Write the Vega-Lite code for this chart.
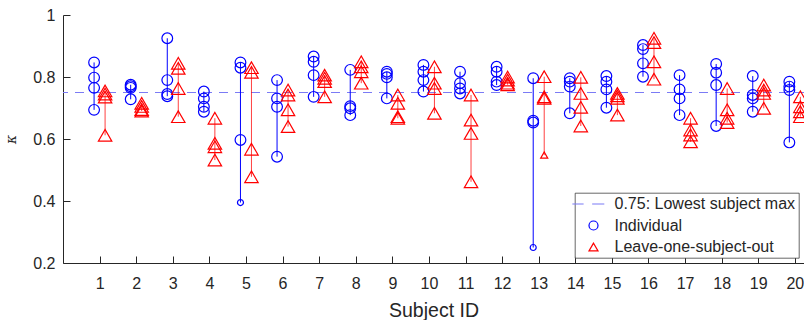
{
  "$schema": "https://vega.github.io/schema/vega-lite/v6.json",
  "width": 741,
  "height": 248,
  "autosize": "none",
  "padding": {"left": 63, "top": 15, "right": 0, "bottom": 57},
  "background": "white",
  "config": {
    "font": "Liberation Sans",
    "view": {"stroke": null},
    "axis": {
      "domainColor": "#262626", "tickColor": "#262626", "labelColor": "#262626", "titleColor": "#262626",
      "labelFont": "Liberation Sans", "labelFontSize": 16, "grid": false, "tickSize": -7,
      "domainWidth": 1, "tickWidth": 1, "titleFontWeight": "normal"
    },
    "legend": {"strokeWidth": 0.7}
  },
  "datasets": {
    "kappa": [
      {"s": 1, "g": "Individual", "k": 0.847}, {"s": 1, "g": "Individual", "k": 0.798}, {"s": 1, "g": "Individual", "k": 0.765}, {"s": 1, "g": "Individual", "k": 0.694},
      {"s": 1, "g": "Leave-one-subject-out", "k": 0.755}, {"s": 1, "g": "Leave-one-subject-out", "k": 0.745}, {"s": 1, "g": "Leave-one-subject-out", "k": 0.735}, {"s": 1, "g": "Leave-one-subject-out", "k": 0.612},
      {"s": 2, "g": "Individual", "k": 0.775}, {"s": 2, "g": "Individual", "k": 0.77}, {"s": 2, "g": "Individual", "k": 0.765}, {"s": 2, "g": "Individual", "k": 0.728},
      {"s": 2, "g": "Leave-one-subject-out", "k": 0.715}, {"s": 2, "g": "Leave-one-subject-out", "k": 0.705}, {"s": 2, "g": "Leave-one-subject-out", "k": 0.695}, {"s": 2, "g": "Leave-one-subject-out", "k": 0.69},
      {"s": 3, "g": "Individual", "k": 0.925}, {"s": 3, "g": "Individual", "k": 0.79}, {"s": 3, "g": "Individual", "k": 0.745}, {"s": 3, "g": "Individual", "k": 0.738},
      {"s": 3, "g": "Leave-one-subject-out", "k": 0.844}, {"s": 3, "g": "Leave-one-subject-out", "k": 0.828}, {"s": 3, "g": "Leave-one-subject-out", "k": 0.763}, {"s": 3, "g": "Leave-one-subject-out", "k": 0.672},
      {"s": 4, "g": "Individual", "k": 0.753}, {"s": 4, "g": "Individual", "k": 0.731}, {"s": 4, "g": "Individual", "k": 0.704}, {"s": 4, "g": "Individual", "k": 0.688},
      {"s": 4, "g": "Leave-one-subject-out", "k": 0.667}, {"s": 4, "g": "Leave-one-subject-out", "k": 0.586}, {"s": 4, "g": "Leave-one-subject-out", "k": 0.575}, {"s": 4, "g": "Leave-one-subject-out", "k": 0.532},
      {"s": 5, "g": "Individual", "k": 0.847}, {"s": 5, "g": "Individual", "k": 0.83}, {"s": 5, "g": "Individual", "k": 0.597}, {"s": 5, "g": "Individual", "k": 0.395, "small": true},
      {"s": 5, "g": "Leave-one-subject-out", "k": 0.83}, {"s": 5, "g": "Leave-one-subject-out", "k": 0.815}, {"s": 5, "g": "Leave-one-subject-out", "k": 0.567}, {"s": 5, "g": "Leave-one-subject-out", "k": 0.478},
      {"s": 6, "g": "Individual", "k": 0.79}, {"s": 6, "g": "Individual", "k": 0.731}, {"s": 6, "g": "Individual", "k": 0.704}, {"s": 6, "g": "Individual", "k": 0.543},
      {"s": 6, "g": "Leave-one-subject-out", "k": 0.758}, {"s": 6, "g": "Leave-one-subject-out", "k": 0.742}, {"s": 6, "g": "Leave-one-subject-out", "k": 0.694}, {"s": 6, "g": "Leave-one-subject-out", "k": 0.64},
      {"s": 7, "g": "Individual", "k": 0.866}, {"s": 7, "g": "Individual", "k": 0.849}, {"s": 7, "g": "Individual", "k": 0.806}, {"s": 7, "g": "Individual", "k": 0.736},
      {"s": 7, "g": "Leave-one-subject-out", "k": 0.806}, {"s": 7, "g": "Leave-one-subject-out", "k": 0.796}, {"s": 7, "g": "Leave-one-subject-out", "k": 0.785}, {"s": 7, "g": "Leave-one-subject-out", "k": 0.736},
      {"s": 8, "g": "Individual", "k": 0.823}, {"s": 8, "g": "Individual", "k": 0.706}, {"s": 8, "g": "Individual", "k": 0.699}, {"s": 8, "g": "Individual", "k": 0.677},
      {"s": 8, "g": "Leave-one-subject-out", "k": 0.849}, {"s": 8, "g": "Leave-one-subject-out", "k": 0.833}, {"s": 8, "g": "Leave-one-subject-out", "k": 0.817}, {"s": 8, "g": "Leave-one-subject-out", "k": 0.78},
      {"s": 9, "g": "Individual", "k": 0.817}, {"s": 9, "g": "Individual", "k": 0.81}, {"s": 9, "g": "Individual", "k": 0.799}, {"s": 9, "g": "Individual", "k": 0.731},
      {"s": 9, "g": "Leave-one-subject-out", "k": 0.742}, {"s": 9, "g": "Leave-one-subject-out", "k": 0.715}, {"s": 9, "g": "Leave-one-subject-out", "k": 0.672}, {"s": 9, "g": "Leave-one-subject-out", "k": 0.667},
      {"s": 10, "g": "Individual", "k": 0.839}, {"s": 10, "g": "Individual", "k": 0.817}, {"s": 10, "g": "Individual", "k": 0.79}, {"s": 10, "g": "Individual", "k": 0.753},
      {"s": 10, "g": "Leave-one-subject-out", "k": 0.833}, {"s": 10, "g": "Leave-one-subject-out", "k": 0.78}, {"s": 10, "g": "Leave-one-subject-out", "k": 0.763}, {"s": 10, "g": "Leave-one-subject-out", "k": 0.683},
      {"s": 11, "g": "Individual", "k": 0.817}, {"s": 11, "g": "Individual", "k": 0.78}, {"s": 11, "g": "Individual", "k": 0.763}, {"s": 11, "g": "Individual", "k": 0.747},
      {"s": 11, "g": "Leave-one-subject-out", "k": 0.742}, {"s": 11, "g": "Leave-one-subject-out", "k": 0.661}, {"s": 11, "g": "Leave-one-subject-out", "k": 0.618}, {"s": 11, "g": "Leave-one-subject-out", "k": 0.462},
      {"s": 12, "g": "Individual", "k": 0.833}, {"s": 12, "g": "Individual", "k": 0.817}, {"s": 12, "g": "Individual", "k": 0.785}, {"s": 12, "g": "Individual", "k": 0.774},
      {"s": 12, "g": "Leave-one-subject-out", "k": 0.8}, {"s": 12, "g": "Leave-one-subject-out", "k": 0.79}, {"s": 12, "g": "Leave-one-subject-out", "k": 0.78}, {"s": 12, "g": "Leave-one-subject-out", "k": 0.775},
      {"s": 13, "g": "Individual", "k": 0.796}, {"s": 13, "g": "Individual", "k": 0.659}, {"s": 13, "g": "Individual", "k": 0.653}, {"s": 13, "g": "Individual", "k": 0.25, "small": true},
      {"s": 13, "g": "Leave-one-subject-out", "k": 0.801}, {"s": 13, "g": "Leave-one-subject-out", "k": 0.736}, {"s": 13, "g": "Leave-one-subject-out", "k": 0.731}, {"s": 13, "g": "Leave-one-subject-out", "k": 0.548, "small": true},
      {"s": 14, "g": "Individual", "k": 0.796}, {"s": 14, "g": "Individual", "k": 0.785}, {"s": 14, "g": "Individual", "k": 0.769}, {"s": 14, "g": "Individual", "k": 0.683},
      {"s": 14, "g": "Leave-one-subject-out", "k": 0.799}, {"s": 14, "g": "Leave-one-subject-out", "k": 0.747}, {"s": 14, "g": "Leave-one-subject-out", "k": 0.702}, {"s": 14, "g": "Leave-one-subject-out", "k": 0.642},
      {"s": 15, "g": "Individual", "k": 0.803}, {"s": 15, "g": "Individual", "k": 0.785}, {"s": 15, "g": "Individual", "k": 0.76}, {"s": 15, "g": "Individual", "k": 0.701},
      {"s": 15, "g": "Leave-one-subject-out", "k": 0.747}, {"s": 15, "g": "Leave-one-subject-out", "k": 0.739}, {"s": 15, "g": "Leave-one-subject-out", "k": 0.731}, {"s": 15, "g": "Leave-one-subject-out", "k": 0.677},
      {"s": 16, "g": "Individual", "k": 0.903}, {"s": 16, "g": "Individual", "k": 0.89}, {"s": 16, "g": "Individual", "k": 0.844}, {"s": 16, "g": "Individual", "k": 0.801},
      {"s": 16, "g": "Leave-one-subject-out", "k": 0.925}, {"s": 16, "g": "Leave-one-subject-out", "k": 0.911}, {"s": 16, "g": "Leave-one-subject-out", "k": 0.849}, {"s": 16, "g": "Leave-one-subject-out", "k": 0.793},
      {"s": 17, "g": "Individual", "k": 0.806}, {"s": 17, "g": "Individual", "k": 0.76}, {"s": 17, "g": "Individual", "k": 0.731}, {"s": 17, "g": "Individual", "k": 0.677},
      {"s": 17, "g": "Leave-one-subject-out", "k": 0.667}, {"s": 17, "g": "Leave-one-subject-out", "k": 0.629}, {"s": 17, "g": "Leave-one-subject-out", "k": 0.613}, {"s": 17, "g": "Leave-one-subject-out", "k": 0.591},
      {"s": 18, "g": "Individual", "k": 0.842}, {"s": 18, "g": "Individual", "k": 0.814}, {"s": 18, "g": "Individual", "k": 0.774}, {"s": 18, "g": "Individual", "k": 0.642},
      {"s": 18, "g": "Leave-one-subject-out", "k": 0.763}, {"s": 18, "g": "Leave-one-subject-out", "k": 0.694}, {"s": 18, "g": "Leave-one-subject-out", "k": 0.667}, {"s": 18, "g": "Leave-one-subject-out", "k": 0.653},
      {"s": 19, "g": "Individual", "k": 0.803}, {"s": 19, "g": "Individual", "k": 0.742}, {"s": 19, "g": "Individual", "k": 0.731}, {"s": 19, "g": "Individual", "k": 0.688},
      {"s": 19, "g": "Leave-one-subject-out", "k": 0.774}, {"s": 19, "g": "Leave-one-subject-out", "k": 0.758}, {"s": 19, "g": "Leave-one-subject-out", "k": 0.747}, {"s": 19, "g": "Leave-one-subject-out", "k": 0.699},
      {"s": 20, "g": "Individual", "k": 0.785}, {"s": 20, "g": "Individual", "k": 0.769}, {"s": 20, "g": "Individual", "k": 0.758}, {"s": 20, "g": "Individual", "k": 0.589},
      {"s": 20, "g": "Leave-one-subject-out", "k": 0.736}, {"s": 20, "g": "Leave-one-subject-out", "k": 0.704}, {"s": 20, "g": "Leave-one-subject-out", "k": 0.688}, {"s": 20, "g": "Leave-one-subject-out", "k": 0.672}
    ],
    "threshold": [{"k": 0.75}]
  },
  "layer": [
    {
      "data": {"name": "threshold"},
      "mark": {"type": "rule", "color": "#7b7bf5", "strokeWidth": 1, "strokeDash": [9, 7]},
      "encoding": {
        "y": {"field": "k", "type": "quantitative", "scale": {"domain": [0.2, 1], "nice": false, "zero": false},
          "axis": {"title": "κ", "titleFont": "DejaVu Serif", "titleFontStyle": "italic", "titleFontSize": 14, "values": [0.2, 0.4, 0.6, 0.8, 1], "tickCount": 10, "format": "~g", "labelPadding": 15, "titlePadding": 14}}
      }
    },
    {
      "data": {"name": "kappa"},
      "transform": [{"filter": "datum.g == 'Individual'"}],
      "mark": {"type": "rule", "color": "#0000ff", "strokeWidth": 1, "xOffset": -5.5},
      "encoding": {
        "x": {"field": "s", "type": "quantitative",
          "scale": {"domain": [0, 20.25], "nice": false, "zero": false},
          "axis": {"title": "Subject ID", "titleFontSize": 19.5, "titlePadding": 10, "values": [1,2,3,4,5,6,7,8,9,10,11,12,13,14,15,16,17,18,19,20], "tickCount": 40, "format": "d", "labelPadding": 19.5, "labelFlush": false, "labelOverlap": false}},
        "y": {"aggregate": "min", "field": "k", "type": "quantitative"},
        "y2": {"aggregate": "max", "field": "k"}
      }
    },
    {
      "data": {"name": "kappa"},
      "transform": [{"filter": "datum.g == 'Leave-one-subject-out'"}],
      "mark": {"type": "rule", "color": "#ff0000", "strokeWidth": 1, "opacity": 0.75, "xOffset": 5.5},
      "encoding": {
        "x": {"field": "s", "type": "quantitative"},
        "y": {"aggregate": "min", "field": "k", "type": "quantitative"},
        "y2": {"aggregate": "max", "field": "k"}
      }
    },
    {
      "data": {"name": "kappa"},
      "transform": [{"filter": "datum.g == 'Individual'"}],
      "mark": {"type": "point", "filled": false, "strokeWidth": 1.2, "opacity": 1, "xOffset": -5.5},
      "encoding": {
        "x": {"field": "s", "type": "quantitative"},
        "y": {"field": "k", "type": "quantitative"},
        "size": {"condition": {"test": "datum.small", "value": 36}, "value": 115},
        "shape": {"field": "g", "type": "nominal",
          "scale": {"domain": ["0.75: Lowest subject max", "Individual", "Leave-one-subject-out"], "range": ["M-4.7,0H-2.2M-0.3,0H2.4", "circle", "triangle-up"]},
          "legend": {"title": null, "orient": "bottom-right", "offset": 5, "padding": 3, "rowPadding": 5.5, "labelFontSize": 16, "labelColor": "#262626", "labelFont": "Liberation Sans", "symbolSize": 81, "symbolStrokeWidth": 1.2, "symbolOffset": 7.5, "labelOffset": 13, "strokeColor": "#262626", "fillColor": "white", "labelLimit": 300}},
        "stroke": {"field": "g", "type": "nominal",
          "scale": {"domain": ["0.75: Lowest subject max", "Individual", "Leave-one-subject-out"], "range": ["#7b7bf5", "#0000ff", "#ff0000"]},
          "legend": {"title": null, "orient": "bottom-right", "offset": 5, "padding": 3, "rowPadding": 5.5, "labelFontSize": 16, "labelColor": "#262626", "labelFont": "Liberation Sans", "symbolSize": 81, "symbolStrokeWidth": 1.2, "symbolOffset": 7.5, "labelOffset": 13, "strokeColor": "#262626", "fillColor": "white", "labelLimit": 300}}
      }
    },
    {
      "data": {"name": "kappa"},
      "transform": [{"filter": "datum.g == 'Leave-one-subject-out'"}],
      "mark": {"type": "point", "filled": false, "strokeWidth": 1.2, "opacity": 1, "xOffset": 5.5},
      "encoding": {
        "x": {"field": "s", "type": "quantitative"},
        "y": {"field": "k", "type": "quantitative"},
        "size": {"condition": {"test": "datum.small", "value": 50}, "value": 180},
        "shape": {"field": "g", "type": "nominal"},
        "stroke": {"field": "g", "type": "nominal"}
      }
    }
  ]
}
